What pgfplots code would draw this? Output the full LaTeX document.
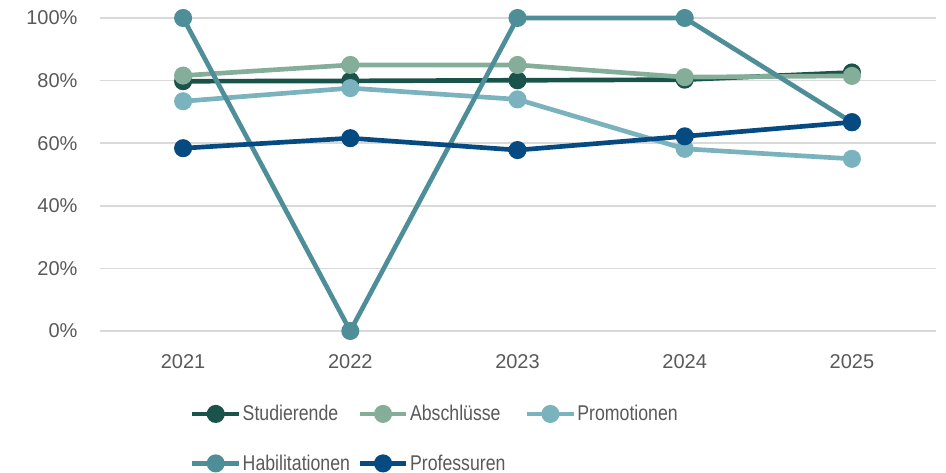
\documentclass[border=0pt]{standalone}
\usepackage{fontspec}
\setmainfont{Liberation Sans}
\newfontfamily\narrowfont[FakeStretch=0.83]{Liberation Sans}
\usepackage{pgfplots}
\pgfplotsset{compat=1.18}
\definecolor{cStud}{HTML}{1A5349}
\definecolor{cAbs}{HTML}{85AE9A}
\definecolor{cProm}{HTML}{7AB3BE}
\definecolor{cHab}{HTML}{4E8E98}
\definecolor{cProf}{HTML}{054A80}
\definecolor{cGrid}{HTML}{D9D9D9}
\definecolor{cText}{HTML}{595959}
\begin{document}
\begin{tikzpicture}
\path[use as bounding box] (0pt,0pt) rectangle (709.5pt,354.75pt);
\begin{axis}[
  at={(74.625pt,106.5pt)}, anchor=south west,
  scale only axis, width=627pt, height=234.75pt,
  xmin=-0.5, xmax=4.5, ymin=0, ymax=100,
  xtick={0,1,2,3,4}, xticklabels={2021,2022,2023,2024,2025},
  ytick={0,20,40,60,80,100},
  yticklabels={0\%,20\%,40\%,60\%,80\%,100\%},
  axis line style={draw=none},
  major tick length=0pt,
  ymajorgrids, grid style={cGrid, line width=1.1pt},
  tick label style={font=\fontsize{15}{18}\selectfont, text=cText},
  yticklabel style={xshift=-13pt},
  xticklabel style={yshift=-14pt},
  clip=false,
  every axis plot/.append style={line width=3.5pt, mark=*, mark size=5pt},
  legend columns=3,
  legend style={at={(0.108,-0.232)}, anchor=north west, draw=none, fill=none,
    font=\narrowfont\fontsize{16}{19}\selectfont, text=cText,
    row sep=22pt, column sep=0pt, inner sep=0pt, nodes={inner sep=1pt}},
  legend cell align=left,
  legend image code/.code={\draw[#1, mark repeat=2, mark phase=2] plot coordinates {(0pt,0pt) (17.5pt,0pt) (35pt,0pt)};},
]
\addplot[cStud, mark options={fill=cStud}] coordinates {(0,79.8) (1,79.9) (2,80.1) (3,80.3) (4,82.6)};
\addlegendentry{\makebox[85pt][l]{Studierende}}
\addplot[cAbs, mark options={fill=cAbs}] coordinates {(0,81.6) (1,85.0) (2,85.0) (3,81.1) (4,81.5)};
\addlegendentry{\makebox[85pt][l]{Abschlüsse}}
\addplot[cProm, mark options={fill=cProm}] coordinates {(0,73.4) (1,77.6) (2,74.0) (3,58.2) (4,55.0)};
\addlegendentry{\makebox[85pt][l]{Promotionen}}
\addplot[cHab, mark options={fill=cHab}] coordinates {(0,100) (1,0) (2,100) (3,100) (4,66.7)};
\addlegendentry{\makebox[85pt][l]{Habilitationen}}
\addplot[cProf, mark options={fill=cProf}] coordinates {(0,58.4) (1,61.6) (2,57.8) (3,62.2) (4,66.7)};
\addlegendentry{\makebox[85pt][l]{Professuren}}
\end{axis}
\end{tikzpicture}
\end{document}
